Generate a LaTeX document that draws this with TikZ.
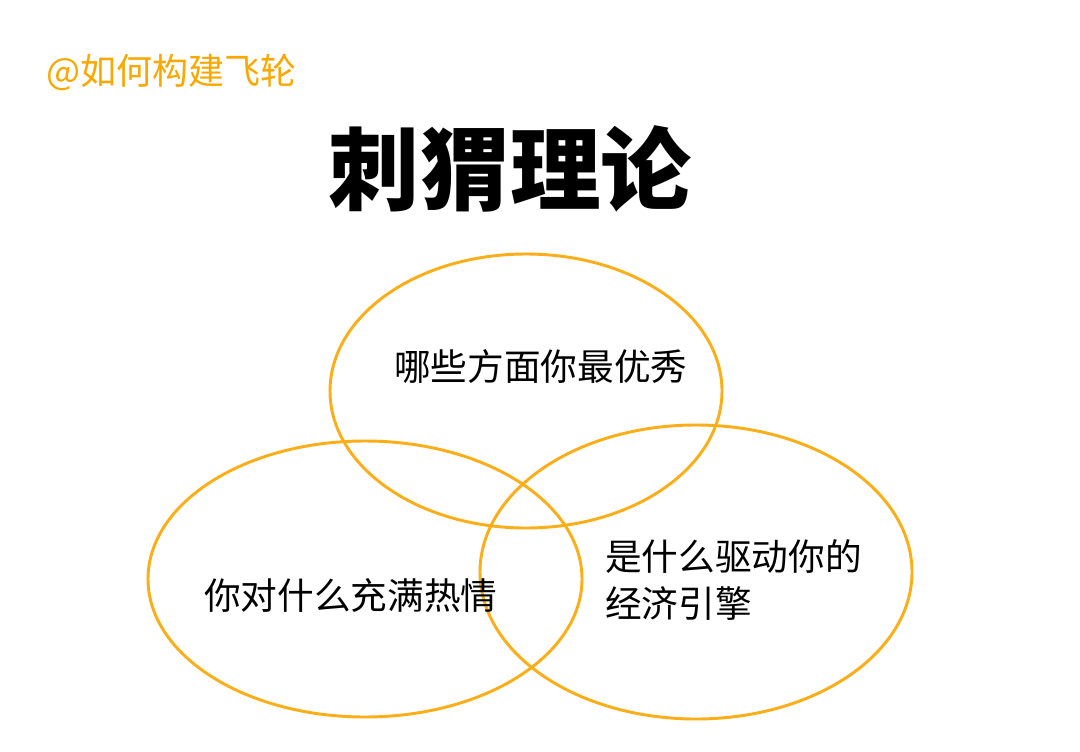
\documentclass[tikz,border=0pt]{standalone}
\usepackage{fontspec}
\setmainfont{Noto Sans CJK SC}
\definecolor{ring}{HTML}{FBAE17}
\definecolor{mark}{HTML}{F9A800}
\tikzset{
  ringline/.style={draw=ring, line width=2.2pt},
  label/.style={inner sep=0pt, anchor=west, font=\fontsize{27.5}{36}\selectfont},
}
\begin{document}
\begin{tikzpicture}[x=0.75pt,y=-0.75pt]
\useasboundingbox[fill=white] (0,0) rectangle (1080,752);
\node[inner sep=0pt, anchor=west, text=mark, font=\fontsize{27}{34}\selectfont] (wm) at (46,72) {@如何构建飞轮};
\node[inner sep=0pt, font=\fontsize{68}{80}\bfseries\selectfont] (title) at (510,169) {刺猬理论};
\draw[ringline] (526,391) ellipse [x radius=196, y radius=137];
\draw[ringline] (365,579) ellipse [x radius=217, y radius=138];
\draw[ringline] (696,572) ellipse [x radius=216, y radius=147];
\node[label] (best) at (394,366) {哪些方面你最优秀};
\node[label] (passion) at (204,596) {你对什么充满热情};
\node[label, align=left, font=\fontsize{27.5}{35.25}\selectfont] (engine) at (605,580) {是什么驱动你的\\经济引擎};
\end{tikzpicture}
\end{document}
